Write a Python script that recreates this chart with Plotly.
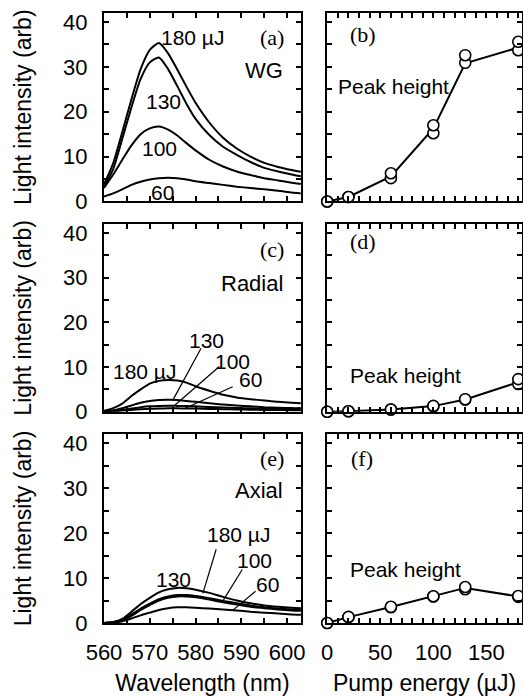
import plotly.graph_objects as go
from plotly.subplots import make_subplots

# ---------------- data ----------------
wavelength = [560, 562, 564, 566, 568, 570, 572, 574, 576, 578, 580, 583, 586, 589, 592, 595, 598, 601, 603]

# (a) WG spectra
wg_180 = [3.8, 8.5, 15.5, 22.8, 29.5, 33.8, 35.3, 33.0, 29.4, 25.6, 22.0, 17.6, 14.2, 11.8, 10.0, 8.6, 7.7, 7.0, 6.6]
wg_130 = [3.2, 7.2, 14.0, 21.0, 27.3, 31.0, 32.1, 29.5, 25.7, 21.8, 18.4, 14.8, 12.2, 10.4, 8.8, 7.5, 6.7, 6.0, 5.6]
wg_100 = [3.0, 6.0, 9.3, 12.5, 15.0, 16.3, 16.7, 16.0, 14.7, 13.0, 11.4, 9.3, 7.8, 6.7, 5.9, 5.2, 4.7, 4.2, 3.9]
wg_60 = [1.1, 1.8, 2.7, 3.7, 4.4, 4.9, 5.2, 5.3, 5.2, 4.9, 4.5, 4.1, 3.7, 3.3, 3.0, 2.7, 2.4, 2.0, 1.8]

# (c) Radial spectra
rad_180 = [0.2, 0.8, 1.8, 3.5, 5.0, 6.3, 6.9, 7.1, 7.0, 6.5, 5.7, 4.7, 3.8, 3.2, 2.8, 2.5, 2.2, 2.0, 1.9]
rad_130 = [0.1, 0.3, 0.8, 1.4, 2.0, 2.4, 2.6, 2.7, 2.6, 2.4, 2.2, 1.9, 1.6, 1.4, 1.2, 1.0, 0.9, 0.8, 0.8]
rad_100 = [0.05, 0.2, 0.4, 0.7, 1.0, 1.2, 1.3, 1.35, 1.3, 1.25, 1.2, 1.05, 0.95, 0.85, 0.75, 0.65, 0.6, 0.55, 0.5]
rad_60 = [0.02, 0.1, 0.25, 0.4, 0.55, 0.65, 0.7, 0.75, 0.75, 0.72, 0.7, 0.62, 0.55, 0.5, 0.45, 0.4, 0.37, 0.33, 0.3]

# (e) Axial spectra
ax_130 = [0.0, 0.2, 0.9, 2.5, 4.2, 5.6, 6.8, 7.5, 7.8, 7.7, 7.4, 6.7, 5.8, 5.0, 4.4, 3.9, 3.6, 3.4, 3.3]
ax_180 = [0.0, 0.15, 0.7, 1.9, 3.2, 4.3, 5.3, 5.9, 6.2, 6.2, 6.0, 5.5, 4.9, 4.4, 3.9, 3.5, 3.2, 3.0, 2.9]
ax_100 = [0.0, 0.15, 0.6, 1.6, 2.9, 4.0, 5.0, 5.6, 5.9, 5.9, 5.7, 5.2, 4.6, 4.1, 3.6, 3.3, 3.0, 2.8, 2.7]
ax_60 = [0.0, 0.1, 0.4, 1.0, 1.7, 2.3, 2.9, 3.3, 3.5, 3.5, 3.4, 3.2, 3.0, 2.8, 2.5, 2.3, 2.1, 1.9, 1.85]

# peak heights vs pump energy (two measurement sets + connecting line)
energy = [0, 20, 60, 100, 130, 180]
wg_peak_1 = [0, 1.0, 6.3, 17.0, 32.6, 35.6]
wg_peak_2 = [0, 1.0, 5.2, 15.2, 30.9, 33.7]
wg_peak_line = [0, 1.0, 5.6, 16.3, 30.8, 34.3]
rad_peak_1 = [0, 0.1, 0.5, 1.3, 2.8, 7.3]
rad_peak_2 = [0, 0.1, 0.5, 1.2, 2.7, 6.2]
rad_peak_line = [0, 0.1, 0.5, 1.25, 2.75, 6.6]
ax_peak_1 = [0, 1.35, 3.6, 5.95, 8.0, 6.0]
ax_peak_2 = [0, 1.3, 3.5, 5.9, 7.5, 5.8]
ax_peak_line = [0, 1.3, 3.55, 5.9, 7.8, 5.9]

x_ticks_wl = [560, 570, 580, 590, 600]
y_ticks = [0, 10, 20, 30, 40]
x_ticks_e = [0, 50, 100, 150]

# ---------------- figure ----------------
fig = make_subplots(rows=3, cols=2)

SANS = "Liberation Sans, Arial, Helvetica, sans-serif"
SERIF = "Liberation Serif, Times New Roman, serif"
LINE = dict(color="black", width=2)

spectra = [
    (1, [wg_180, wg_130, wg_100, wg_60]),
    (2, [rad_180, rad_130, rad_100, rad_60]),
    (3, [ax_130, ax_180, ax_100, ax_60]),
]
for row, series in spectra:
    for s in series:
        fig.add_trace(go.Scatter(x=wavelength, y=s, mode="lines", line=dict(color="black", width=2, shape="spline", smoothing=0.6),
                                 showlegend=False, hoverinfo="skip"), row=row, col=1)

peaks = [
    (1, wg_peak_1, wg_peak_2, wg_peak_line),
    (2, rad_peak_1, rad_peak_2, rad_peak_line),
    (3, ax_peak_1, ax_peak_2, ax_peak_line),
]
for row, p1, p2, pl in peaks:
    fig.add_trace(go.Scatter(x=energy, y=pl, mode="lines", line=LINE, showlegend=False, cliponaxis=False), row=row, col=2)
    for p in (p2, p1):
        fig.add_trace(go.Scatter(x=energy, y=p, mode="markers", cliponaxis=False, showlegend=False,
                                 marker=dict(symbol="circle", size=11, color="white", line=dict(color="black", width=1.6))),
                      row=row, col=2)

ydoms = [[0.691, 1.0], [0.3464, 0.654], [0.0, 0.3098]]
xdoms = [[0.0, 0.471], [0.534, 1.0]]

axis_common = dict(showline=True, linecolor="black", linewidth=2, mirror="ticks", ticks="inside",
                   ticklen=5, tickwidth=1.5, tickcolor="black", showgrid=False, zeroline=False,
                   tickfont=dict(family=SANS, size=22, color="black"))

for r in range(3):
    for c in range(2):
        idx = r * 2 + c + 1
        xa = "xaxis" if idx == 1 else f"xaxis{idx}"
        ya = "yaxis" if idx == 1 else f"yaxis{idx}"
        if c == 0:
            xcfg = dict(axis_common, domain=xdoms[0], range=[560, 603], tickvals=x_ticks_wl,
                        minor=dict(dtick=5, tick0=560, ticks="inside", ticklen=5, tickwidth=1.5, tickcolor="black"),
                        showticklabels=(r == 2), ticklabelstandoff=9)
            ycfg = dict(axis_common, domain=ydoms[r], range=[0, 42], tickvals=y_ticks,
                        minor=dict(dtick=5, tick0=0, ticks="inside", ticklen=5, tickwidth=1.5, tickcolor="black"),
                        ticklabelstandoff=10,
                        title=dict(text="Light intensity (arb)", font=dict(family=SANS, size=23, color="black"), standoff=25))
        else:
            xcfg = dict(axis_common, domain=xdoms[1], range=[0, 183.5], tickvals=x_ticks_e,
                        minor=dict(dtick=10, tick0=0, ticks="inside", ticklen=5, tickwidth=1.5, tickcolor="black"),
                        showticklabels=(r == 2), ticklabelstandoff=9)
            ycfg = dict(axis_common, domain=ydoms[r], range=[0, 42], dtick=5, showticklabels=False)
        if r == 2:
            xcfg["title"] = dict(text=("Wavelength (nm)" if c == 0 else "Pump energy (µJ)"),
                                 font=dict(family=SANS, size=23, color="black"), standoff=13)
        fig.layout[xa].update(xcfg)
        fig.layout[ya].update(ycfg)

ann = []
def txt(xref, yref, x, y, text, size=21, font=SANS, xanchor="center"):
    ann.append(dict(xref=xref, yref=yref, x=x, y=y, text=text, showarrow=False, xanchor=xanchor, yanchor="middle",
                    font=dict(family=font, size=size, color="black")))

# (a)
txt("x", "y", 579.3, 36.6, "180 µJ")
txt("x", "y", 573.0, 22.2, "130")
txt("x", "y", 572.2, 11.9, "100")
txt("x", "y", 572.8, 2.1, "60")
txt("x", "y", 596.7, 36.6, "(a)", size=22, font=SERIF)
txt("x", "y", 599.5, 29.3, "WG", size=22, xanchor="right")
# (c)
txt("x3", "y3", 568.8, 9.1, "180 µJ")
txt("x3", "y3", 582.4, 16.0, "130")
txt("x3", "y3", 588.0, 11.2, "100")
txt("x3", "y3", 592.1, 7.1, "60")
txt("x3", "y3", 596.7, 36.2, "(c)", size=22, font=SERIF)
txt("x3", "y3", 599.5, 28.8, "Radial", size=22, xanchor="right")
# (e)
txt("x5", "y5", 589.3, 19.75, "180 µJ")
txt("x5", "y5", 592.8, 13.8, "100")
txt("x5", "y5", 595.6, 8.6, "60")
txt("x5", "y5", 575.1, 9.7, "130")
txt("x5", "y5", 596.7, 36.5, "(e)", size=22, font=SERIF)
txt("x5", "y5", 599.5, 29.4, "Axial", size=22, xanchor="right")
# right panels
txt("x2", "y2", 33.8, 37.1, "(b)", size=22, font=SERIF)
txt("x2", "y2", 8.5, 25.7, "Peak height", xanchor="left")
txt("x4", "y4", 33.8, 38.0, "(d)", size=22, font=SERIF)
txt("x4", "y4", 20.0, 8.2, "Peak height", xanchor="left")
txt("x6", "y6", 32.3, 36.5, "(f)", size=22, font=SERIF)
txt("x6", "y6", 20.0, 11.8, "Peak height", xanchor="left")

shapes = []
def leader(xref, yref, x0, y0, x1, y1):
    shapes.append(dict(type="line", xref=xref, yref=yref, x0=x0, y0=y0, x1=x1, y1=y1,
                       line=dict(color="black", width=1.2)))

leader("x3", "y3", 581.2, 14.2, 575.1, 2.7)
leader("x3", "y3", 585.2, 10.1, 575.4, 1.4)
leader("x3", "y3", 588.1, 5.6, 577.6, 0.7)
leader("x5", "y5", 584.5, 16.4, 581.6, 6.6)
leader("x5", "y5", 590.2, 11.9, 585.9, 4.8)
leader("x5", "y5", 593.1, 7.07, 588.1, 2.8)

fig.update_layout(
    width=523, height=696,
    margin=dict(l=104, r=1, t=13, b=73, autoexpand=False),
    paper_bgcolor="white", plot_bgcolor="white",
    font=dict(family=SANS, size=21, color="black"),
    annotations=ann, shapes=shapes, showlegend=False,
)

fig.write_html("out.html", config={"displayModeBar": False},
               post_script="document.body.style.margin='0px'; document.body.style.overflow='hidden';")
